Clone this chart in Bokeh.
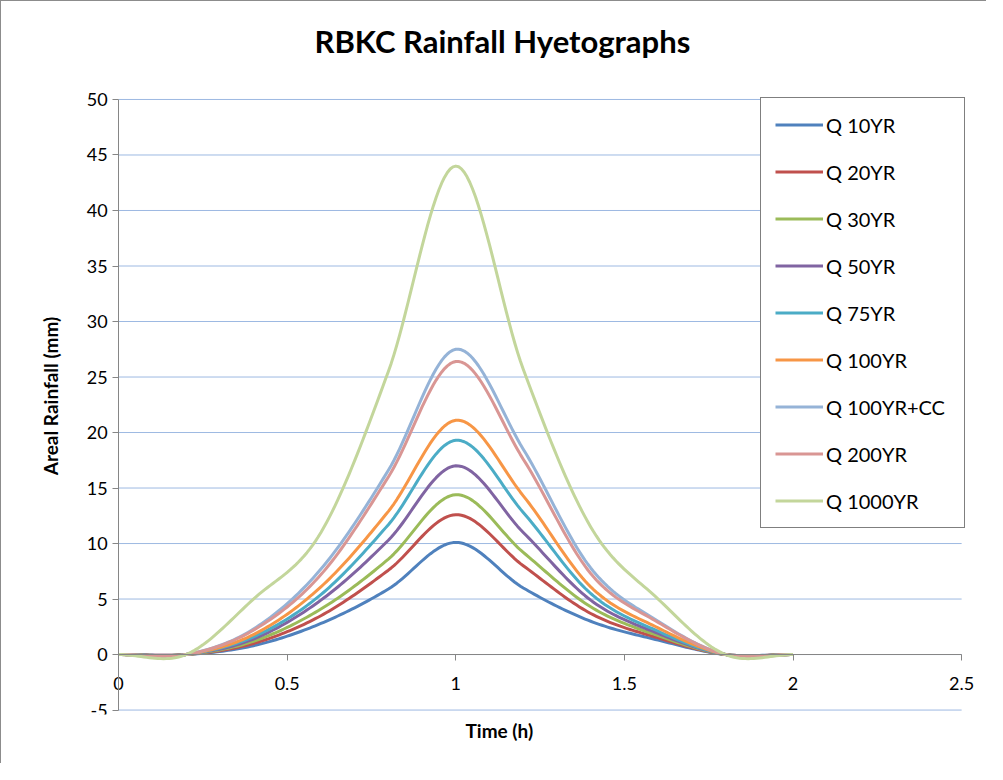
import numpy as np
from bokeh.plotting import figure
from bokeh.models import Legend, LegendItem, FixedTicker, Title
from bokeh.embed import file_html
from bokeh.resources import INLINE

# ---- data ----
time_h = [0.0, 0.2, 0.4, 0.6, 0.8, 1.0, 1.2, 1.4, 1.6, 1.8, 2.0]
q10 = [0, 0, 0.8, 2.8, 5.9, 10.1, 6.0, 3.0, 1.3, 0, 0]
q20 = [0, 0, 1.0, 3.5, 7.6, 12.6, 8.0, 3.7, 1.5, 0, 0]
q30 = [0, 0, 1.2, 4.1, 8.6, 14.4, 9.2, 4.3, 1.7, 0, 0]
q50 = [0, 0, 1.4, 4.9, 10.3, 17.0, 11.0, 4.9, 1.9, 0, 0]
q75 = [0, 0, 1.6, 5.4, 11.7, 19.3, 12.8, 5.5, 2.1, 0, 0]
q100 = [0, 0, 1.8, 6.1, 12.9, 21.1, 14.3, 6.1, 2.4, 0, 0]
q100cc = [0, 0, 2.3, 7.7, 16.6, 27.5, 18.5, 7.8, 3.0, 0, 0]
q200 = [0, 0, 2.2, 7.2, 16.0, 26.4, 17.6, 7.3, 2.9, 0, 0]
q1000 = [0, 0, 5.0, 11.0, 25.5, 44.0, 25.7, 11.5, 5.0, 0, 0]

series_names = ["Q 10YR", "Q 20YR", "Q 30YR", "Q 50YR", "Q 75YR",
                "Q 100YR", "Q 100YR+CC", "Q 200YR", "Q 1000YR"]
series_values = [q10, q20, q30, q50, q75, q100, q100cc, q200, q1000]
colors = ["#4F81BD", "#C0504D", "#9BBB59", "#8064A2", "#4BACC6",
          "#F79646", "#95B3D7", "#D99694", "#C3D69B"]

x_ticks = [0, 0.5, 1, 1.5, 2, 2.5]
y_ticks = [-5, 0, 5, 10, 15, 20, 25, 30, 35, 40, 45, 50]
x_axis_bounds = (0, 2.5)
y_axis_bounds = (-5, 50)


def smooth(xs, ys, n=24):
    """Excel-like smoothed line (Catmull-Rom through the data points)."""
    xs = np.asarray(xs, float)
    ys = np.asarray(ys, float)
    m = len(xs)
    ox, oy = [], []
    for i in range(m - 1):
        y0 = ys[i - 1] if i > 0 else ys[i]
        y1, y2 = ys[i], ys[i + 1]
        y3 = ys[i + 2] if i + 2 < m else ys[i + 1]
        t1 = (y2 - y0) / 2.0
        t2 = (y3 - y1) / 2.0
        for s in np.linspace(0, 1, n, endpoint=False):
            h00 = 2 * s**3 - 3 * s**2 + 1
            h10 = s**3 - 2 * s**2 + s
            h01 = -2 * s**3 + 3 * s**2
            h11 = s**3 - s**2
            ox.append(xs[i] + s * (xs[i + 1] - xs[i]))
            oy.append(h00 * y1 + h10 * t1 + h01 * y2 + h11 * t2)
    ox.append(xs[-1])
    oy.append(ys[-1])
    return ox, oy


FONT = "Lato"

# The frame is a little larger than the axis bounds so that the Excel-style
# axes (crossing at 0) and their labels are not clipped.
p = figure(width=986, height=763, x_range=(-0.11, 2.55), y_range=(-5.4, 51.98),
           output_backend="svg", toolbar_location=None,
           min_border_left=80, min_border_right=9,
           min_border_top=75, min_border_bottom=50)
p.outline_line_color = None
p.background_fill_color = "white"
p.border_fill_color = "white"

p.title = Title(text="RBKC Rainfall Hyetographs", align="left",
                text_font=FONT, text_font_size="31px", text_font_style="bold",
                text_color="#000000", standoff=36, offset=233)

# axes, Excel style
p.xaxis.fixed_location = 0
p.yaxis.fixed_location = 0
p.xaxis.bounds = x_axis_bounds
p.yaxis.bounds = y_axis_bounds
p.xaxis.ticker = FixedTicker(ticks=x_ticks)
p.yaxis.ticker = FixedTicker(ticks=y_ticks)
p.yaxis.major_label_overrides = {-5: "-5"}
for ax in (p.xaxis, p.yaxis):
    ax.axis_line_color = "#868686"
    ax.axis_line_width = 1
    ax.major_tick_line_color = "#868686"
    ax.major_tick_in = 0
    ax.major_tick_out = 6
    ax.minor_tick_line_color = None
    ax.major_label_text_font = FONT
    ax.major_label_text_font_size = "18px"
    ax.major_label_text_color = "#000000"
p.xaxis.major_label_standoff = 16
p.yaxis.major_label_standoff = 5

p.add_layout(Title(text="Areal Rainfall (mm)", align="center", text_font=FONT,
                   text_font_size="19px", text_font_style="bold",
                   text_color="#000000", standoff=40), "left")
p.add_layout(Title(text="Time (h)", align="left", text_font=FONT,
                   text_font_size="19px", text_font_style="bold",
                   text_color="#000000", standoff=4, offset=384), "below")

# horizontal gridlines between the axis bounds
p.xgrid.grid_line_color = None
p.ygrid.grid_line_color = None
p.segment(x0=[x_axis_bounds[0]] * len(y_ticks), y0=y_ticks,
          x1=[x_axis_bounds[1]] * len(y_ticks), y1=y_ticks,
          line_color="#9DB9E2", line_width=1)

items = []
for name, vals, col in zip(series_names, series_values, colors):
    sx, sy = smooth(time_h, vals)
    r = p.line(sx, sy, line_color=col, line_width=3, line_join="round")
    items.append(LegendItem(label=name, renderers=[r]))

legend = Legend(items=items, location=(679, 186),
                label_text_font=FONT, label_text_font_size="20px",
                label_text_color="#000000",
                glyph_width=48, glyph_height=25, label_height=25,
                label_width=124,
                label_standoff=3, spacing=22, padding=14, margin=0,
                border_line_color="#000000", border_line_width=1,
                background_fill_color="white", background_fill_alpha=1.0)
p.add_layout(legend)

p.styles = {"border-left": "1px solid #8c8c8c", "border-top": "1px solid #8c8c8c"}

open("out.html", "w").write(file_html(p, INLINE))
